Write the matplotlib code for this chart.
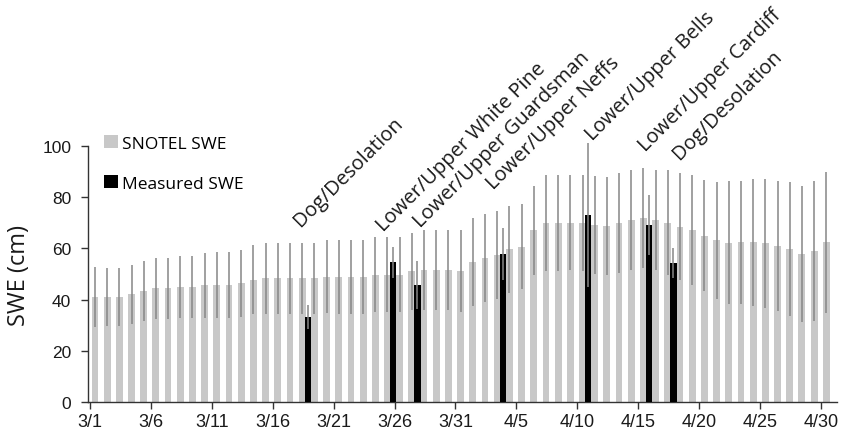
import matplotlib
matplotlib.use("Agg")
import matplotlib.pyplot as plt
from matplotlib.patches import Patch
import numpy as np

# Daily dates, 1 March to 30 April
days = [f"3/{d}" for d in range(1, 32)] + [f"4/{d}" for d in range(1, 31)]

# SNOTEL SWE (cm) and its +/- error for each day
snotel_swe = [41.0, 41.0, 41.0, 42.0, 43.2, 44.4, 44.4, 45.0, 45.0, 45.7,
              45.7, 45.7, 46.3, 47.7, 48.3, 48.3, 48.3, 48.3, 48.3, 48.9,
              48.9, 48.9, 48.9, 49.7, 49.7, 49.7, 51.0, 51.7, 51.7, 51.7,
              51.2, 54.7, 56.2, 57.5, 59.7, 60.6, 67.0, 69.8, 69.8, 70.1,
              69.8, 69.1, 68.8, 69.8, 71.2, 71.8, 71.2, 70.0, 68.5, 67.2,
              65.0, 63.1, 62.3, 62.4, 62.4, 62.0, 61.1, 59.9, 57.8, 59.1,
              62.4]
snotel_err = [11.7, 11.5, 11.5, 11.5, 11.7, 12.0, 12.0, 12.0, 12.0, 12.7,
              13.0, 13.0, 13.0, 13.5, 14.0, 14.0, 14.0, 14.0, 14.0, 14.2,
              14.5, 14.5, 14.5, 14.7, 14.7, 14.7, 15.2, 15.6, 15.6, 15.6,
              16.0, 17.3, 17.3, 17.3, 17.0, 16.6, 17.5, 18.7, 18.7, 18.4,
              18.7, 19.2, 19.1, 19.5, 19.6, 19.5, 19.5, 20.5, 20.8, 21.5,
              21.6, 23.0, 23.9, 24.0, 24.9, 25.2, 25.4, 26.2, 26.7, 27.3,
              27.5]

# Field-measured SWE (cm) at the surveyed sites
measured_days = ["3/19", "3/26", "3/28", "4/4", "4/11", "4/16", "4/18"]
measured_swe = [33.1, 54.5, 45.7, 57.8, 73.0, 69.1, 54.2]
measured_err = [4.7, 6.0, 9.5, 10.3, 28.0, 11.7, 5.8]
site_names = ["Dog/Desolation", "Lower/Upper White Pine",
              "Lower/Upper Guardsman", "Lower/Upper Neffs",
              "Lower/Upper Bells", "Lower/Upper Cardiff", "Dog/Desolation"]
# where each rotated site name starts (day position, cm)
site_label_x = [17.25, 24.05, 27.1, 33.1, 41.2, 45.55, 48.4]
site_label_y = [68.4, 66.8, 68.0, 83.2, 102.0, 97.8, 94.9]

tick_days = days[::5]
y_ticks = [0, 20, 40, 60, 80, 100]

narrow = ["Liberation Sans", "DejaVu Sans"]
body = ["Open Sans", "DejaVu Sans"]

fig = plt.figure(figsize=(8.47, 4.39), dpi=100)
ax = fig.add_axes([0.1039, 0.0820, 0.8843, 0.5831])

x = np.arange(len(days))
mx = np.array([days.index(d) for d in measured_days])

ecol = "#868686"
ax.bar(x + 0.42, snotel_swe, width=0.56, color="#c8c8c8", zorder=2)
ax.errorbar(x + 0.42, snotel_swe, yerr=snotel_err, fmt="none",
            ecolor=ecol, elinewidth=1.1, capsize=0, zorder=3, clip_on=False)
ax.bar(mx - 0.12, measured_swe, width=0.52, color="#000000", zorder=4)
ax.errorbar(mx - 0.12, measured_swe, yerr=measured_err, fmt="none",
            ecolor=ecol, elinewidth=1.1, capsize=0, zorder=5, clip_on=False)

for lx, ly, name in zip(site_label_x, site_label_y, site_names):
    ax.text(lx, ly, name, rotation=45, rotation_mode="anchor",
            ha="left", va="baseline", fontsize=14.5, family=body,
            color="#1a1a1a", clip_on=False)

ax.set_xlim(-0.15, 61.3)
ax.set_ylim(0, 100)
ax.set_xticks([days.index(d) for d in tick_days])
ax.set_xticklabels(tick_days, family=narrow, fontsize=13)
ax.set_yticks(y_ticks)
ax.set_yticklabels([str(v) for v in y_ticks], family=narrow, fontsize=12.5)
ax.tick_params(axis="both", direction="out", length=5, width=1,
               color="#333333", labelcolor="#1a1a1a")
ax.tick_params(axis="x", pad=3)
ax.tick_params(axis="y", pad=7)
for side in ("top", "right"):
    ax.spines[side].set_visible(False)
for side in ("left", "bottom"):
    ax.spines[side].set_color("#333333")
    ax.spines[side].set_linewidth(1)

ax.set_ylabel("SWE (cm)", family=body, fontsize=17, color="#1a1a1a",
              labelpad=8)

handles = [Patch(facecolor="#c8c8c8", edgecolor="none", label="SNOTEL SWE"),
           Patch(facecolor="#000000", edgecolor="none", label="Measured SWE")]
ax.legend(handles=handles, loc="upper left", bbox_to_anchor=(0.022, 1.042),
          frameon=False, borderpad=0, borderaxespad=0,
          handlelength=0.75, handleheight=0.75,
          handletextpad=0.25, labelspacing=1.35,
          prop={"family": body, "size": 12.5})

fig.savefig("out.png", dpi=100)
